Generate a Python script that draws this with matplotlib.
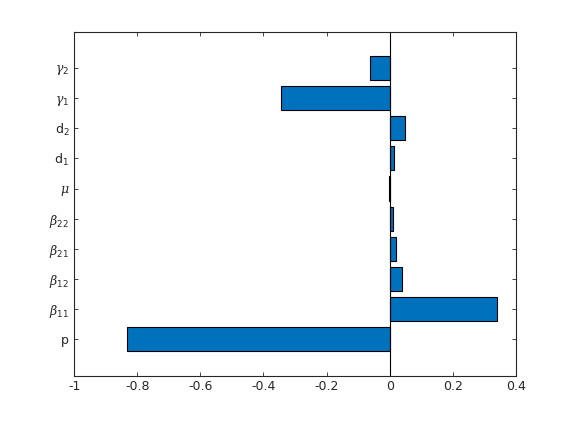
import numpy as np
import matplotlib
matplotlib.use('Agg')
import matplotlib.pyplot as plt

labels = ["p", r"$\beta_{\mathrm{11}}$", r"$\beta_{\mathrm{12}}$", r"$\beta_{\mathrm{21}}$",
          r"$\beta_{\mathrm{22}}$", r"$\mu$", r"d$_{\mathrm{1}}$", r"d$_{\mathrm{2}}$",
          r"$\gamma_{\mathrm{1}}$", r"$\gamma_{\mathrm{2}}$"]
values = [-0.831, 0.341, 0.040, 0.020, 0.011, -0.003, 0.014, 0.049, -0.345, -0.063]
xticks = [-1, -0.8, -0.6, -0.4, -0.2, 0, 0.2, 0.4]

plt.rcParams['mathtext.fontset'] = 'custom'
plt.rcParams['mathtext.it'] = 'DejaVu Serif:italic'
plt.rcParams['mathtext.rm'] = 'DejaVu Sans'

fig = plt.figure(figsize=(5.7, 4.22), dpi=100)
ax = fig.add_axes([0.13, 0.11, 0.775, 0.815])

y = np.arange(1, len(labels) + 1)
ax.barh(y, values, height=0.8, color='#0072BD', edgecolor='k', linewidth=0.8)
ax.axvline(0, color='k', linewidth=0.8)

ax.set_xlim(-1, 0.4)
ax.set_ylim(-0.2, 11.2)
ax.set_yticks(y)
ax.set_yticklabels(labels)
ax.set_xticks(xticks)
ax.set_xticklabels(['-1', '-0.8', '-0.6', '-0.4', '-0.2', '0', '0.2', '0.4'])

for s in ax.spines.values():
    s.set_color('#262626')
    s.set_linewidth(0.8)
ax.tick_params(direction='in', top=True, right=True, length=3, width=0.6,
               colors='#262626', labelsize=9)

plt.savefig("out.png")
